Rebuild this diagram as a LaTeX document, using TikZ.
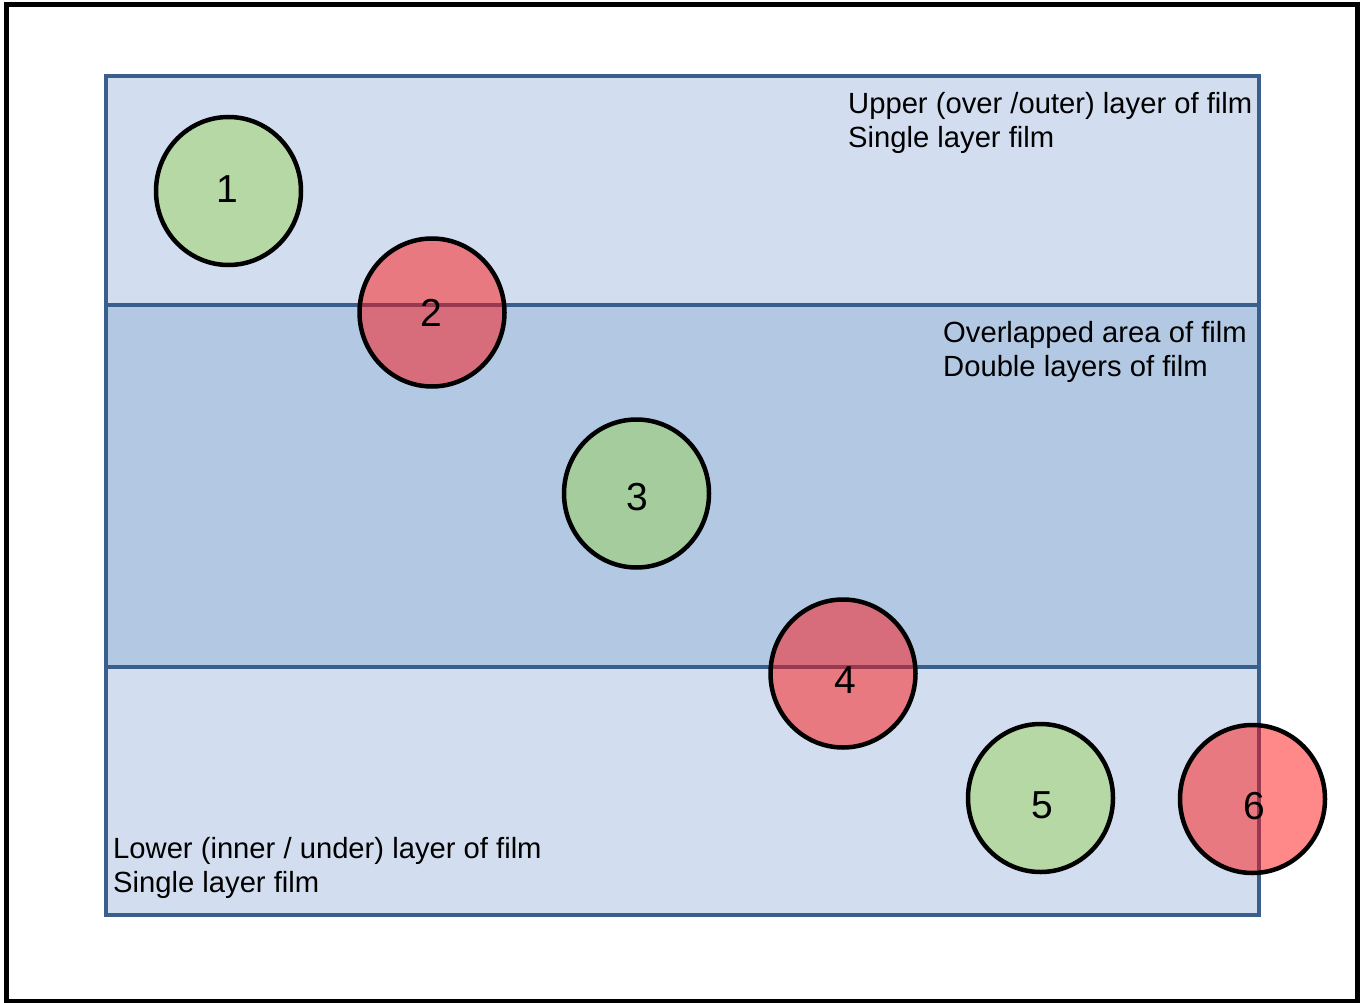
\documentclass[tikz,border=0pt]{standalone}
\usepackage{fontspec}
\setmainfont{Liberation Sans}
\definecolor{filmlight}{RGB}{210,222,239}
\definecolor{filmdark}{RGB}{178,200,227}
\definecolor{filmline}{RGB}{58,95,140}
\definecolor{dotgreen}{RGB}{153,210,86}
\definecolor{dotred}{RGB}{255,16,16}
\begin{document}
\begin{tikzpicture}[x=1pt,y=-1pt,
  film/.style={draw=filmline,line width=4.5pt},
  dot/.style={draw=black,line width=4.5pt,fill opacity=0.49},
  gdot/.style={dot,fill=dotgreen},
  rdot/.style={dot,fill=dotred},
  num/.style={font=\fontsize{39}{41}\selectfont,inner sep=0pt},
  txt/.style={font=\fontsize{29.2}{32}\selectfont,inner sep=0pt,anchor=base west}]
\useasboundingbox (0,0) rectangle (1360,1003);
\fill[white] (0,0) rectangle (1360,1003);
\draw[line width=5pt] (6.5,5) rectangle (1357.5,1001.5);
% film
\fill[filmlight] (106,76) rectangle (1259,915);
\fill[filmdark] (106,305) rectangle (1259,667);
\draw[film] (106,305) -- (1259,305);
\draw[film] (106,667) -- (1259,667);
\draw[film,line width=4pt] (106,76) rectangle (1259,915);
% texts
\node[txt] (t1) at (848,114) {Upper (over /outer) layer of film};
\node[txt] (t2) at (848,148) {Single layer film};
\node[txt] (t3) at (943,342) {Overlapped area of film};
\node[txt] (t4) at (943,376) {Double layers of film};
\node[txt] (t5) at (113,858) {Lower (inner / under) layer of film};
\node[txt] (t6) at (113,892) {Single layer film};
% circles
\filldraw[gdot] (228.5,191) ellipse [x radius=72.5, y radius=74];
\filldraw[rdot] (432,312.5) ellipse [x radius=72.5, y radius=74];
\filldraw[gdot] (636.5,493.5) ellipse [x radius=72.5, y radius=74];
\filldraw[rdot] (843,673.5) ellipse [x radius=72.5, y radius=74];
\filldraw[gdot] (1040.5,798) ellipse [x radius=72.5, y radius=74];
\filldraw[rdot] (1252.5,799) ellipse [x radius=72.5, y radius=74];
% numbers
\node[num] (n1) at (227,189) {1};
\node[num] (n2) at (431,313) {2};
\node[num] (n3) at (637,497) {3};
\node[num] (n4) at (845,680) {4};
\node[num] (n5) at (1042,805) {5};
\node[num] (n6) at (1254,806) {6};
\end{tikzpicture}
\end{document}
